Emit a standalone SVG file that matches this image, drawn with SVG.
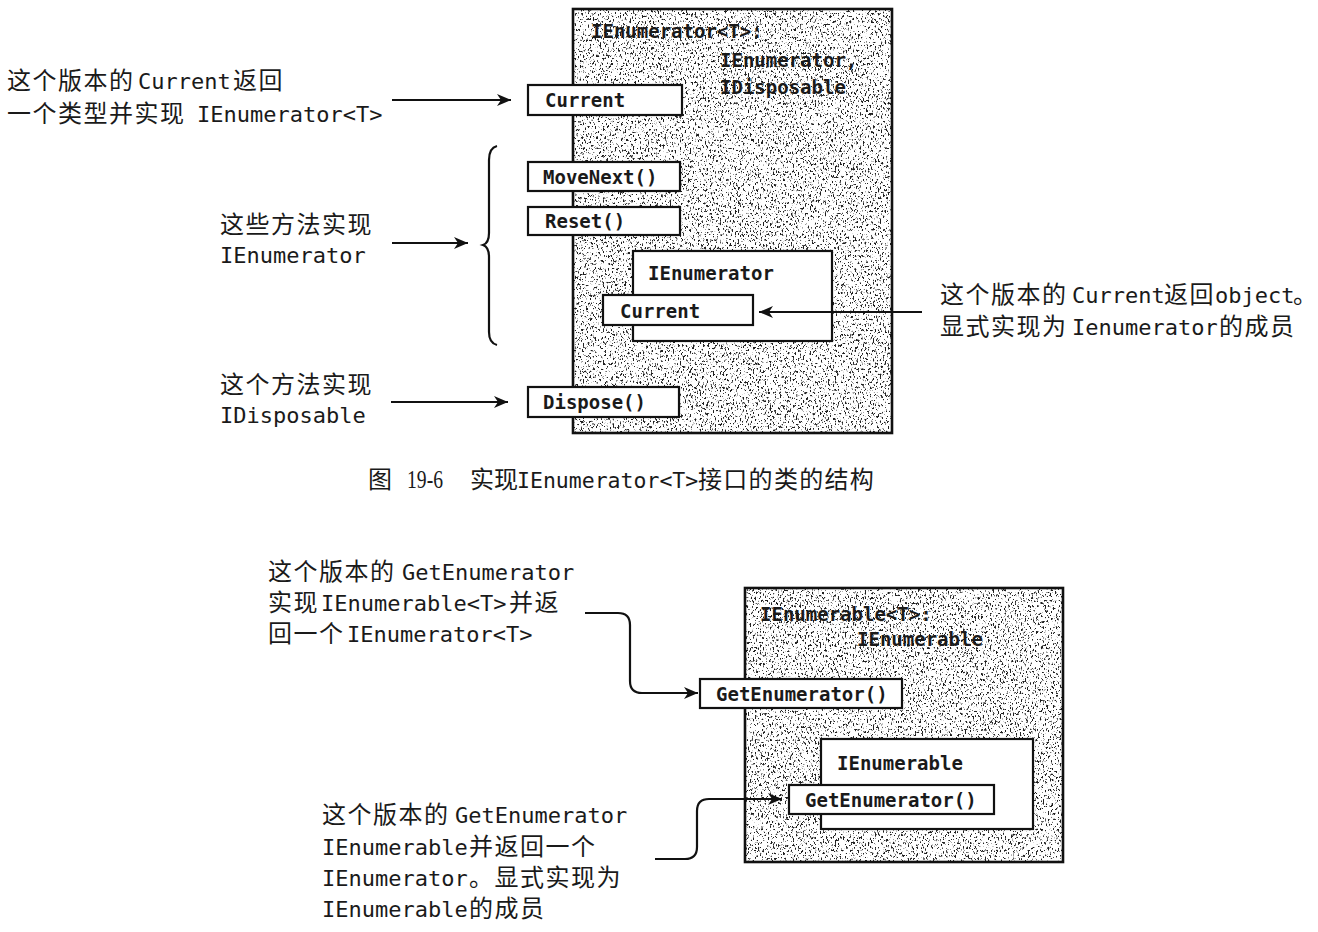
<svg xmlns="http://www.w3.org/2000/svg" width="1318" height="932" viewBox="0 0 1318 932">
<style>
.lbl{font-family:"DejaVu Sans Mono","Noto Sans CJK SC",monospace;font-size:22px;fill:#1a1a1a}
.cjk{font-family:"Noto Sans CJK SC","Noto Sans CJK JP",sans-serif;font-size:24px;letter-spacing:1.5px}
.code{font-family:"DejaVu Sans Mono",monospace;font-size:19px;font-weight:bold;fill:#1a1a1a}
.box{fill:#fff;stroke:#111;stroke-width:2.2}
.frame{fill:none;stroke:#111;stroke-width:2.6}
.conn{fill:none;stroke:#111;stroke-width:2.2}
.cap{font-family:"Noto Sans CJK SC",sans-serif;font-size:24px;fill:#1a1a1a}
</style>
<defs>
<filter id="speckle" x="0" y="0" width="100%" height="100%" color-interpolation-filters="sRGB">
<feTurbulence type="fractalNoise" baseFrequency="0.6 0.38" numOctaves="3" seed="7" result="n"/>
<feColorMatrix in="n" type="matrix" values="0 0 0 0 0.12  0 0 0 0 0.12  0 0 0 0 0.12  10 0 0 0 -5.8" result="dots"/>
<feComposite in="dots" in2="SourceGraphic" operator="in" result="d"/>
<feMerge><feMergeNode in="SourceGraphic"/><feMergeNode in="d"/></feMerge>
</filter>
<marker id="arr" markerUnits="userSpaceOnUse" markerWidth="16" markerHeight="14" refX="14" refY="6" orient="auto">
<path d="M0,0 L14,6 L0,12 L4,6 Z" fill="#111"/>
</marker>
</defs>
<rect width="1318" height="932" fill="#fff"/>

<!-- Top figure -->
<g id="ienumeratorT-class">
<rect x="573" y="9" width="319" height="424" fill="#fff" filter="url(#speckle)"/>
<rect class="frame" x="573" y="9" width="319" height="424"/>
<text class="code" x="591" y="38">IEnumerator&lt;T&gt;:</text>
<text class="code" x="720" y="67">IEnumerator,</text>
<text class="code" x="720" y="94">IDisposable</text>
</g>
<g id="current-T">
<rect class="box" x="528" y="85" width="154" height="30"/>
<text class="code" x="545" y="107">Current</text>
</g>
<g id="movenext">
<rect class="box" x="528" y="162" width="152" height="29"/>
<text class="code" x="543" y="184">MoveNext()</text>
</g>
<g id="reset">
<rect class="box" x="528" y="207" width="152" height="28"/>
<text class="code" x="545" y="228">Reset()</text>
</g>
<g id="ienumerator-explicit">
<rect class="box" x="633" y="251" width="199" height="90"/>
<text class="code" x="648" y="280">IEnumerator</text>
</g>
<g id="current-object">
<rect class="box" x="603" y="295" width="150" height="30"/>
<text class="code" x="620" y="318">Current</text>
</g>
<g id="dispose">
<rect class="box" x="528" y="387" width="151" height="30"/>
<text class="code" x="543" y="409">Dispose()</text>
</g>

<g id="label-current-T">
<text class="lbl" y="89"><tspan class="cjk" x="7">这个版本的</tspan><tspan x="138">Current</tspan><tspan class="cjk" x="233">返回</tspan></text>
<text class="lbl" y="122"><tspan class="cjk" x="7">一个类型并实现</tspan><tspan x="197">IEnumerator&lt;T&gt;</tspan></text>
</g>
<g id="label-methods">
<text class="lbl" y="233"><tspan class="cjk" x="220">这些方法实现</tspan></text>
<text class="lbl" x="220" y="263">IEnumerator</text>
</g>
<g id="label-dispose">
<text class="lbl" y="393"><tspan class="cjk" x="220">这个方法实现</tspan></text>
<text class="lbl" x="220" y="423">IDisposable</text>
</g>
<g id="label-current-object">
<text class="lbl" y="303"><tspan class="cjk" x="940">这个版本的</tspan><tspan x="1072">Current</tspan><tspan class="cjk" x="1164">返回</tspan><tspan x="1215">object</tspan><tspan class="cjk" x="1293" style="letter-spacing:0">。</tspan></text>
<text class="lbl" y="335"><tspan class="cjk" x="940">显式实现为</tspan><tspan x="1072">Ienumerator</tspan><tspan class="cjk" x="1219">的成员</tspan></text>
</g>

<g id="caption">
<text class="cap" y="488"><tspan x="368">图</tspan><tspan x="407" style="font-family:'Liberation Serif',serif;font-size:25px" textLength="36" lengthAdjust="spacingAndGlyphs">19-6</tspan><tspan x="470">实现</tspan><tspan x="517" style="font-family:'DejaVu Sans Mono',monospace;font-size:21.5px">IEnumerator&lt;T&gt;</tspan><tspan x="698" style="letter-spacing:1.3px">接口的类的结构</tspan></text>
</g>

<!-- Bottom figure -->
<g id="ienumerableT-class">
<rect x="745" y="588" width="318" height="274" fill="#fff" filter="url(#speckle)"/>
<rect class="frame" x="745" y="588" width="318" height="274"/>
<text class="code" x="760" y="621">IEnumerable&lt;T&gt;:</text>
<text class="code" x="857" y="646">IEnumerable</text>
</g>
<g id="getenumerator-T">
<rect class="box" x="700" y="679" width="202" height="29"/>
<text class="code" x="716" y="701">GetEnumerator()</text>
</g>
<g id="ienumerable-explicit">
<rect class="box" x="821" y="739" width="212" height="90"/>
<text class="code" x="837" y="770">IEnumerable</text>
</g>
<g id="getenumerator-object">
<rect class="box" x="789" y="785" width="205" height="29"/>
<text class="code" x="805" y="807">GetEnumerator()</text>
</g>

<g id="label-getenumerator-T">
<text class="lbl" y="580"><tspan class="cjk" x="268">这个版本的</tspan><tspan x="402">GetEnumerator</tspan></text>
<text class="lbl" y="611"><tspan class="cjk" x="268">实现</tspan><tspan x="321">IEnumerable&lt;T&gt;</tspan><tspan class="cjk" x="509">并返</tspan></text>
<text class="lbl" y="642"><tspan class="cjk" x="268">回一个</tspan><tspan x="347">IEnumerator&lt;T&gt;</tspan></text>
</g>
<g id="label-getenumerator-explicit">
<text class="lbl" y="823"><tspan class="cjk" x="322">这个版本的</tspan><tspan x="455">GetEnumerator</tspan></text>
<text class="lbl" y="855"><tspan x="322">IEnumerable</tspan><tspan class="cjk" x="469">并返回一个</tspan></text>
<text class="lbl" y="886"><tspan x="322">IEnumerator</tspan><tspan class="cjk" x="469">。显式实现为</tspan></text>
<text class="lbl" y="917"><tspan x="322">IEnumerable</tspan><tspan class="cjk" x="469">的成员</tspan></text>
</g>

<g id="connectors">
<path class="conn" d="M392,100 L511,100" marker-end="url(#arr)"/>
<path class="conn" d="M392,243 L468,243" marker-end="url(#arr)"/>
<path class="conn" d="M391,402 L508,402" marker-end="url(#arr)"/>
<path class="conn" d="M922,312 L759,312" marker-end="url(#arr)"/>
<path class="conn" stroke-width="2.6" d="M497,146 Q489,148 489,160 L489,233 Q489,243 483,245 Q489,247 489,257 L489,332 Q489,343 497,345"/>
<path class="conn" d="M585,613 L618,613 Q630,613 630,625 L630,681 Q630,693 642,693 L698,693" marker-end="url(#arr)"/>
<path class="conn" d="M655,859 L685,859 Q697,859 697,847 L697,811 Q697,799 709,799 L782,799" marker-end="url(#arr)"/>
</g>
</svg>
